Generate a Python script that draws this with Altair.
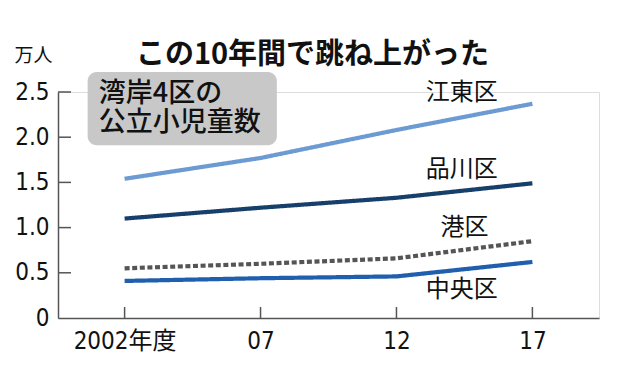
import altair as alt
import pandas as pd

# ---- data ----
years = [2002, 2007, 2012, 2017]
wards = ["江東区", "品川区", "港区", "中央区"]
koto = [1.54, 1.77, 2.08, 2.37]
shinagawa = [1.10, 1.22, 1.33, 1.49]
minato = [0.55, 0.60, 0.66, 0.85]
chuo = [0.41, 0.44, 0.46, 0.62]
series = [koto, shinagawa, minato, chuo]

x_tick_labels = ["2002年度", "07", "12", "17"]
y_ticks = [0.0, 0.5, 1.0, 1.5, 2.0, 2.5]
y_tick_labels = ["0", "0.5", "1.0", "1.5", "2.0", "2.5"]
title_text = "この10年間で跳ね上がった"
unit_text = "万人"
box_lines = ["湾岸4区の", "公立小児童数"]

# label anchors (data units)
label_x = [2014.4, 2014.4, 2014.5, 2014.4]
label_y = [2.49, 1.64, 1.0, 0.31]
box_x = [2000.64, 2007.6]
box_y = [2.72, 1.91]
box_text_x = [2001.05, 2001.05]
box_text_y = [2.475, 2.155]

# ---- styles ----
colors = ["#6b9bd2", "#173f6b", "#555555", "#1f5fad"]
dashes = [[1, 0], [1, 0], [5, 2.6], [1, 0]]
JP = "Noto Sans CJK JP"
NUM = "Liberation Sans Narrow, DejaVu Sans Condensed, Noto Sans CJK JP"
W, H = 541, 226

rows = []
for w, vals in zip(wards, series):
    for yr, v in zip(years, vals):
        rows.append({"ward": w, "year": yr, "value": v})
df = pd.DataFrame(rows)

xmap = "{" + ",".join(f"'{y}':'{l}'" for y, l in zip(years, x_tick_labels)) + "}"
ymap = "{" + ",".join(f"'{v:.1f}':'{l}'" for v, l in zip(y_ticks, y_tick_labels)) + "}"

xscale = alt.Scale(domain=[1999.55, 2019.45], nice=False, zero=False)
yscale = alt.Scale(domain=[0, 2.5], nice=False)

x_axis = alt.Axis(values=years, labelExpr=f"{xmap}[''+datum.value]", ticks=False,
                  grid=False, title=None, domainColor="#555555", domainWidth=1.5,
                  labelFont=NUM, labelFontSize=24, labelColor="#111111",
                  labelPadding=11, labelAlign="center")
y_axis = alt.Axis(values=y_ticks, labelExpr=f"{ymap}[format(datum.value,'.1f')]",
                  ticks=False, grid=False, title=unit_text, titleAngle=0,
                  titleX=-25, titleY=-37, titleAlign="center", titleBaseline="middle",
                  titleFont=JP, titleFontSize=19, titleFontWeight="normal",
                  titleColor="#111111", domainColor="#555555", domainWidth=1.5,
                  labelFont=NUM, labelFontSize=24, labelColor="#111111",
                  labelPadding=9)

lines = alt.Chart(df).mark_line(strokeWidth=4.2, strokeCap="butt").encode(
    x=alt.X("year:Q", scale=xscale, axis=x_axis),
    y=alt.Y("value:Q", scale=yscale, axis=y_axis),
    color=alt.Color("ward:N", scale=alt.Scale(domain=wards, range=colors), legend=None),
    strokeDash=alt.StrokeDash("ward:N", scale=alt.Scale(domain=wards, range=dashes), legend=None),
    detail="ward:N",
)

ytick_df = pd.DataFrame({"v": y_ticks[1:]})
yticks = alt.Chart(ytick_df).mark_rule(color="#555555", strokeWidth=1.5).encode(
    y=alt.Y("v:Q", scale=yscale), x=alt.value(0), x2=alt.value(13))

xtick_df = pd.DataFrame({"yr": years})
xticks = alt.Chart(xtick_df).mark_rule(color="#555555", strokeWidth=1.5).encode(
    x=alt.X("yr:Q", scale=xscale), y=alt.value(H - 11), y2=alt.value(H))

lab_df = pd.DataFrame({"ward": wards, "x": label_x, "y": label_y})
labels = alt.Chart(lab_df).mark_text(font=JP, fontSize=24, color="#111111",
                                     align="center", baseline="middle").encode(
    x=alt.X("x:Q", scale=xscale), y=alt.Y("y:Q", scale=yscale), text="ward:N")

box_df = pd.DataFrame({"x": [box_x[0]], "x2": [box_x[1]], "y": [box_y[0]], "y2": [box_y[1]]})
box = alt.Chart(box_df).mark_rect(color="#c8c8c8", cornerRadius=9).encode(
    x=alt.X("x:Q", scale=xscale), x2="x2:Q",
    y=alt.Y("y:Q", scale=yscale), y2="y2:Q")

bt_df = pd.DataFrame({"t": box_lines, "x": box_text_x, "y": box_text_y})
box_text = alt.Chart(bt_df).mark_text(font=JP, fontSize=27, fontWeight=500, color="#111111",
                                      align="left", baseline="middle").encode(
    x=alt.X("x:Q", scale=xscale), y=alt.Y("y:Q", scale=yscale), text="t:N")

chart = alt.layer(box, box_text, yticks, xticks, lines, labels).properties(
    width=W, height=H,
    title=alt.TitleParams(title_text, font=JP, fontSize=29, fontWeight="bold",
                          color="#111111", anchor="middle", dx=-16, dy=38, offset=14),
    padding={"left": 50, "top": 84, "right": 20, "bottom": 50},
    autosize=alt.AutoSizeParams(type="none"),
).configure_view(stroke=None).configure(background="white")

chart.save("out.html", embed_options={"renderer": "svg", "actions": False})
